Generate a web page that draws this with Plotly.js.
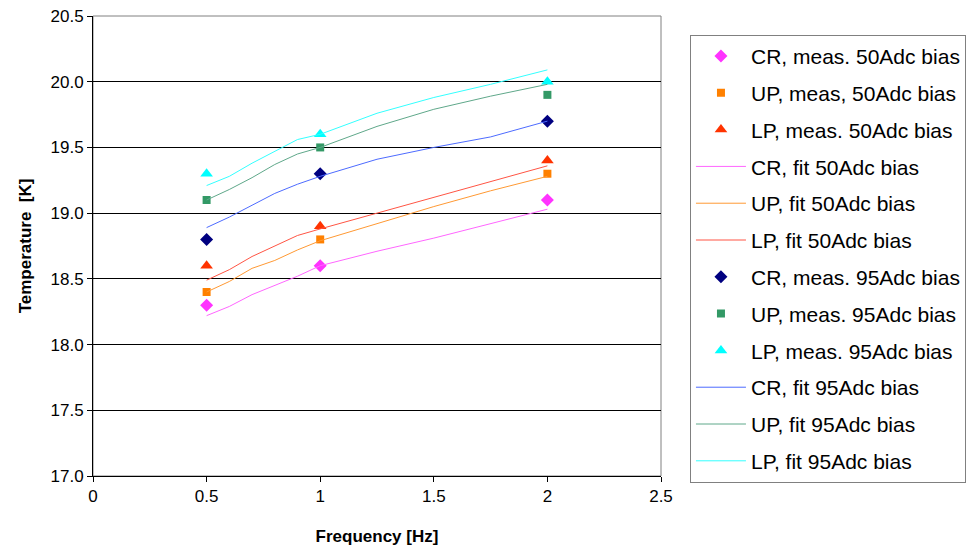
<!DOCTYPE html>
<html>
<head>
<meta charset="utf-8">
<script src="https://cdn.plot.ly/plotly-3.0.1.min.js"></script>
<style>html,body{margin:0;padding:0;background:#fff;}#chart{width:980px;height:548px;}</style>
</head>
<body>
<div id="chart"></div>
<script>
// Frequencies
const freqMeas = [0.5, 1, 2];
const freqFit = [0.5, 0.6, 0.7, 0.8, 0.9, 1.0, 1.25, 1.5, 1.75, 2.0];

// Measured temperatures [K]
const crMeas50 = [18.3, 18.6, 19.1];
const upMeas50 = [18.4, 18.8, 19.3];
const lpMeas50 = [18.6, 18.9, 19.4];
const crMeas95 = [18.8, 19.3, 19.7];
const upMeas95 = [19.1, 19.5, 19.9];
const lpMeas95 = [19.3, 19.6, 20.0];

// Fitted temperatures [K]
const crFit50 = [18.22, 18.29, 18.38, 18.45, 18.52, 18.60, 18.71, 18.81, 18.92, 19.03];
const upFit50 = [18.40, 18.48, 18.58, 18.64, 18.72, 18.79, 18.92, 19.05, 19.17, 19.28];
const lpFit50 = [18.49, 18.57, 18.67, 18.75, 18.83, 18.88, 19.00, 19.12, 19.24, 19.36];
const crFit95 = [18.89, 18.97, 19.06, 19.15, 19.22, 19.28, 19.41, 19.50, 19.58, 19.70];
const upFit95 = [19.10, 19.18, 19.27, 19.37, 19.45, 19.50, 19.66, 19.79, 19.89, 19.98];
const lpFit95 = [19.21, 19.28, 19.38, 19.47, 19.56, 19.60, 19.76, 19.88, 19.98, 20.09];

const names = [
  'CR, meas. 50Adc bias', 'UP, meas, 50Adc bias', 'LP, meas. 50Adc bias',
  'CR, fit 50Adc bias', 'UP, fit 50Adc bias', 'LP, fit 50Adc bias',
  'CR, meas. 95Adc bias', 'UP, meas. 95Adc bias', 'LP, meas. 95Adc bias',
  'CR, fit 95Adc bias', 'UP, fit 95Adc bias', 'LP, fit 95Adc bias'
];

function meas(name, y, color, symbol, size, i) {
  return {x: freqMeas, y: y, name: name, type: 'scatter', mode: 'markers',
    legendgroup: 'g' + String(i).padStart(2, '0'),
    marker: {color: color, symbol: symbol, size: size, line: {width: 0}}};
}
function fit(name, y, color, i) {
  return {x: freqFit, y: y, name: name, type: 'scatter', mode: 'lines',
    legendgroup: 'g' + String(i).padStart(2, '0'),
    line: {color: color, width: 1}};
}

const data = [
  meas(names[0], crMeas50, '#FF33FF', 'diamond', 10, 0),
  meas(names[1], upMeas50, '#FF8000', 'square', 8, 1),
  meas(names[2], lpMeas50, '#FF3300', 'triangle-up', 11, 2),
  fit(names[3], crFit50, '#FF66FF', 3),
  fit(names[4], upFit50, '#FF9933', 4),
  fit(names[5], lpFit50, '#FF5544', 5),
  meas(names[6], crMeas95, '#000080', 'diamond', 10, 6),
  meas(names[7], upMeas95, '#339966', 'square', 8, 7),
  meas(names[8], lpMeas95, '#00FFFF', 'triangle-up', 11, 8),
  fit(names[9], crFit95, '#4D6BFF', 9),
  fit(names[10], upFit95, '#5FA88A', 10),
  fit(names[11], lpFit95, '#33FFFF', 11)
];

const font = 'Liberation Sans, Arial, sans-serif';
const layout = {
  width: 980, height: 548,
  margin: {l: 93, r: 319, t: 16, b: 72, pad: 0},
  paper_bgcolor: '#fff', plot_bgcolor: '#fff',
  font: {family: font, color: '#000', size: 17},
  showlegend: true,
  legend: {
    x: 1.051, y: 0.959, xanchor: 'left', yanchor: 'top',
    bordercolor: '#808080', borderwidth: 1, bgcolor: '#fff',
    font: {family: font, size: 21, color: '#000'},
    tracegroupgap: 6.5, itemwidth: 50, traceorder: 'grouped'
  },
  xaxis: {
    range: [0, 2.5], dtick: 0.5, tick0: 0,
    showgrid: false, zeroline: false,
    showline: true, linecolor: '#000', linewidth: 1,
    ticks: 'outside', ticklen: 5, tickcolor: '#000',
    tickfont: {size: 17},
    title: {text: 'Frequency [Hz]', font: {size: 17, weight: 'bold'}, standoff: 24}
  },
  yaxis: {
    range: [17, 20.5], dtick: 0.5, tick0: 17, tickformat: '.1f',
    showgrid: true, gridcolor: '#000', gridwidth: 1, zeroline: false,
    showline: true, linecolor: '#000', linewidth: 1,
    ticks: 'outside', ticklen: 5, tickcolor: '#000',
    tickfont: {size: 17},
    title: {text: 'Temperature\u00a0 [K]', font: {size: 17, weight: 'bold'}, standoff: 14}
  },
  shapes: [
    {type: 'rect', xref: 'paper', yref: 'paper', x0: 0, x1: 1, y0: 0, y1: 1,
     line: {color: '#808080', width: 1}, layer: 'below'}
  ]
};

Plotly.newPlot('chart', data, layout, {displayModeBar: false, staticPlot: true});
</script>
</body>
</html>
